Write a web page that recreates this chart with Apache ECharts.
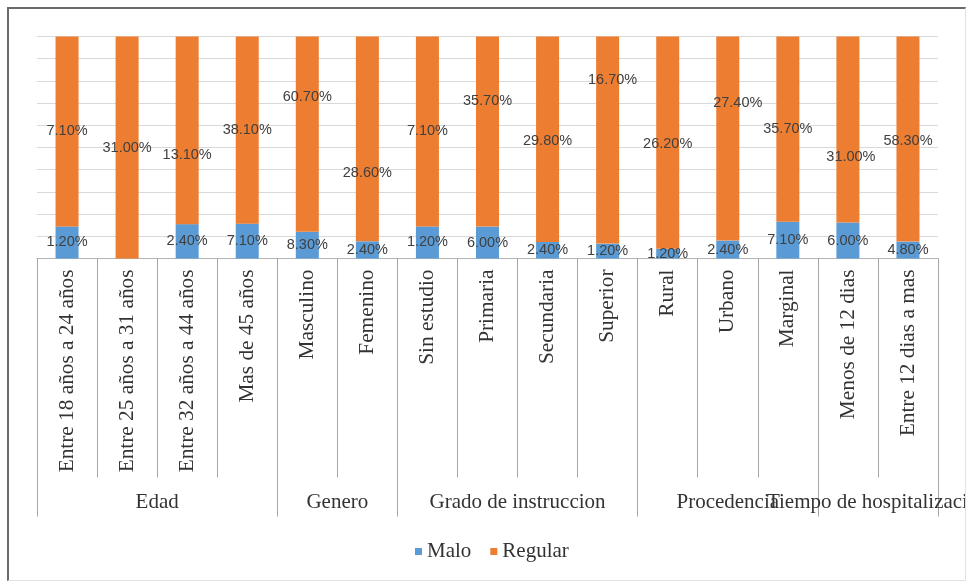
<!DOCTYPE html>
<html>
<head>
<meta charset="utf-8">
<script src="https://cdn.jsdelivr.net/npm/echarts@6/dist/echarts.min.js"></script>
<style>
  html, body { margin: 0; padding: 0; background: #fff; }
  #chart { position: absolute; left: 0; top: 0; width: 966px; height: 581px; }
  #frame {
    position: absolute; left: 7px; top: 7px; width: 956px; height: 571px;
    border-top: 2px solid #6a6a6a; border-left: 2px solid #6a6a6a;
    border-right: 1px solid #e2e2e2; border-bottom: 1px solid #e2e2e2;
    pointer-events: none;
  }
</style>
</head>
<body>
<div id="chart"></div>
<div id="frame"></div>
<script>
// Categories, grouped under their variable
const categories = [
  'Entre 18 años a 24 años', 'Entre 25 años a 31 años', 'Entre 32 años a 44 años', 'Mas de 45 años',
  'Masculino', 'Femenino',
  'Sin estudio', 'Primaria', 'Secundaria', 'Superior',
  'Rural', 'Urbano', 'Marginal',
  'Menos de 12 dias', 'Entre 12 dias a mas'
];
const groups = ['Edad', 'Genero', 'Grado de instruccion', 'Procedencia', 'Tiempo de hospitalizacion'];
const groupSizes = [4, 2, 4, 3, 2];

// Percentages per category
const malo    = [1.2, 0, 2.4, 7.1, 8.3, 2.4, 1.2, 6.0, 2.4, 1.2, 1.2, 2.4, 7.1, 6.0, 4.8];
const regular = [7.1, 31.0, 13.1, 38.1, 60.7, 28.6, 7.1, 35.7, 29.8, 16.7, 26.2, 27.4, 35.7, 31.0, 58.3];

// Hand-placed shifts of the "Regular" labels, in pixels [dx, dy]
const regularLabelNudge = [
  [0, 0], [0, 0], [0, 25], [0, 0], [0, -37], [0, 34], [0, 0], [0, -31],
  [0, 2], [5, -60], [0, 1], [10, -36], [0, 0], [3, 27], [0, 2]
];

// 100% stacking: each column is scaled to its own total
const totals = categories.map((_, i) => malo[i] + regular[i]);
const maloShare = malo.map((v, i) => v / totals[i] * 100);
const regularShare = regular.map((v, i) => v / totals[i] * 100);

// Group boundaries and centres along the category axis
const groupEdges = [0];
groupSizes.forEach(n => groupEdges.push(groupEdges[groupEdges.length - 1] + n));
const groupCentres = groupSizes.map((n, i) => groupEdges[i] + n / 2);

const fmt = v => v.toFixed(2) + '%';
const labelStyle = {
  show: true, position: 'inside', color: '#404040',
  fontFamily: 'Liberation Sans', fontSize: 14.5
};
const serif = 'Liberation Serif';
const groupName = v => groups[groupCentres.indexOf(v)] || '';

// Group-label axis; the last group name sits on its own axis so that the
// overlapping neighbour names are both drawn
function groupAxis(centres, withTicks) {
  return {
    type: 'value',
    min: 0, max: categories.length,
    position: 'bottom',
    axisLine: { show: false },
    splitLine: { show: false },
    axisTick: {
      show: withTicks, length: 258, customValues: groupEdges,
      lineStyle: { color: '#a6a6a6' }
    },
    axisLabel: {
      show: true, margin: 233, customValues: centres,
      showMinLabel: true, showMaxLabel: true, hideOverlap: false,
      fontFamily: serif, fontSize: 21, color: '#333',
      formatter: groupName
    }
  };
}

const chart = echarts.init(document.getElementById('chart'), null, { renderer: 'canvas' });
chart.setOption({
  animation: false,
  backgroundColor: '#ffffff',
  color: ['#5b9bd5', '#ed7d31'],
  grid: {
    left: 37, right: 28, top: 36.5, bottom: 322.5,
    containLabel: false, outerBoundsMode: 'none'
  },
  legend: {
    data: ['Malo', 'Regular'],
    left: 410, top: 536,
    icon: 'rect', itemWidth: 7, itemHeight: 7, itemGap: 19,
    textStyle: { fontFamily: serif, fontSize: 21, color: '#333' }
  },
  xAxis: [
    {
      type: 'category',
      data: categories,
      position: 'bottom',
      axisLine: { show: true, lineStyle: { color: '#b3b3b3', width: 1 } },
      axisTick: { show: true, interval: 0, length: 219, lineStyle: { color: '#a6a6a6' } },
      axisLabel: {
        interval: 0, rotate: 90, margin: 11,
        fontFamily: serif, fontSize: 21.3, color: '#333'
      },
      splitLine: { show: false }
    },
    groupAxis(groupCentres.slice(0, -1), true),
    groupAxis(groupCentres.slice(-1), false)
  ],
  yAxis: {
    type: 'value', min: 0, max: 100, interval: 10,
    axisLine: { show: false }, axisTick: { show: false },
    axisLabel: { show: false },
    splitLine: { lineStyle: { color: '#d9d9d9', width: 1 } }
  },
  series: [
    {
      name: 'Malo', type: 'bar', stack: 'total', xAxisIndex: 0,
      barWidth: 23,
      data: maloShare,
      label: Object.assign({}, labelStyle, {
        formatter: p => malo[p.dataIndex] === 0 ? '' : fmt(malo[p.dataIndex])
      })
    },
    {
      name: 'Regular', type: 'bar', stack: 'total', xAxisIndex: 0,
      barWidth: 23,
      data: regularShare.map((v, i) => ({
        value: v,
        label: { offset: regularLabelNudge[i] }
      })),
      label: Object.assign({}, labelStyle, {
        formatter: p => fmt(regular[p.dataIndex])
      })
    }
  ]
});
</script>
</body>
</html>
